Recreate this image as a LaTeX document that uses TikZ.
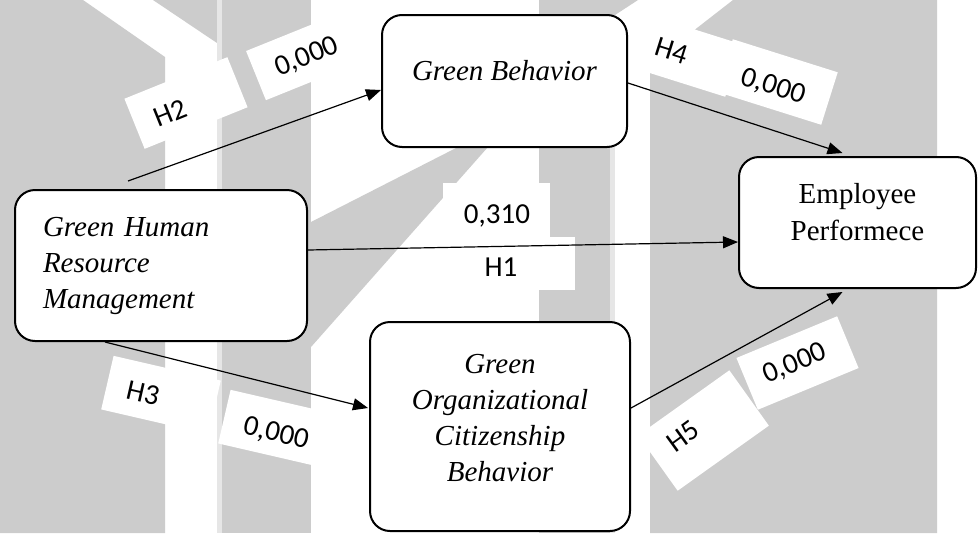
\documentclass[tikz,border=0pt]{standalone}
\usepackage{fontspec}
\setmainfont{Liberation Serif}
\newfontfamily\lblfont{Carlito}
\usetikzlibrary{arrows.meta,calc}
\definecolor{wmgray}{RGB}{204,204,204}
\definecolor{wmlight}{RGB}{230,230,230}

\begin{document}
\begin{tikzpicture}[x=1pt,y=-1pt,
  construct/.style={draw=black, line width=2pt, rounded corners=20pt, fill=white,
    font=\fontsize{29}{36}\selectfont\itshape, inner sep=0pt},
  tag/.style={fill=white, inner sep=0pt},
  tagtext/.style={font=\lblfont\fontsize{29}{31}\selectfont, inner sep=0pt},
  link/.style={line width=1.2pt, -{Triangle[length=15pt,width=12pt]}}]

% canvas
\fill[white] (0,0) rectangle (979,533);
\useasboundingbox (0,0) rectangle (979,533);

% background watermark
\fill[wmgray] (0,0) -- (83,0) -- (165,57) -- (165,533) -- (0,533) -- cycle;
\fill[wmgray] (153,0) -- (217,0) -- (217,43) -- cycle;
\fill[wmlight] (217,0) rectangle (222,533);
\fill[wmgray] (222,0) rectangle (311,533);
\fill[wmgray] (311,222) -- (458,147) -- (488,147) -- (311,347) -- cycle;
\fill[wmgray] (539,0) rectangle (610,533);
\fill[wmgray] (610,0) -- (638,0) -- (615,15) -- (610,15) -- cycle;
\fill[wmlight] (610,15) rectangle (615,533);
\fill[wmgray] (650,70) -- (697,28) -- (733,0) -- (937,0) -- (937,533) -- (650,533) -- cycle;

% label plates
\node[tag, rotate=22, minimum width=111pt, minimum height=54pt] (h2bg) at (186,103) {};
\node[tag, rotate=22, minimum width=110pt, minimum height=53pt] (p2bg) at (307,55) {};
\node[tag, rotate=-17.5, minimum width=110pt, minimum height=55pt] (h4bg) at (681,54) {};
\node[tag, rotate=-17.5, minimum width=110pt, minimum height=55pt] (p4bg) at (777,82) {};
\node[tag, rotate=-13, minimum width=110pt, minimum height=55pt] (h3bg) at (161,395) {};
\node[tag, rotate=-13, minimum width=110pt, minimum height=55pt] (p3bg) at (278,429) {};
\node[tag, rotate=35.5, minimum width=112pt, minimum height=68pt] (h5bg) at (703.5,430.5) {};
\node[tag, rotate=22.5, minimum width=109pt, minimum height=56pt] (p5bg) at (797.5,363) {};
\node[tag, minimum width=107pt, minimum height=54pt] (p1bg) at (496.5,210) {};
\node[tag, minimum width=140pt, minimum height=53pt] (h1bg) at (505,263.5) {};

% constructs
\node[construct, minimum width=292pt, minimum height=151pt, text width=236pt, align=left]
  (ghrm) at (161,265.5) {Green Human\\Resource\\Management};
\node[construct, minimum width=245pt, minimum height=132pt, text depth=22pt]
  (gb) at (504.5,81) {Green Behavior};
\node[construct, minimum width=237pt, minimum height=131pt, align=center, text depth=22pt,
  font=\fontsize{29}{37}\selectfont\upshape]
  (ep) at (857.5,222.5) {Employee\\Performece};
\node[construct, minimum width=260pt, minimum height=209pt, align=center, text depth=18pt]
  (gocb) at (500,426.5) {Green\\Organizational\\Citizenship\\Behavior};

% paths
\coordinate (h2tail) at (128,181);
\draw[link] (h2tail) -- ($(gb.west)+(0,9)$);
\draw[link] ($(ghrm.east)+(0,-15.5)$) -- ($(ep.west)+(0,19.5)$);
\draw[link] ($(gb.east)+(0,2)$) -- ($(ep.north)+(-15,-3)$);
\draw[link] ($(ghrm.south)+(-56,0)$) -- ($(gocb.west)+(-1,-18.5)$);
\draw[link] ($(gocb.east)+(0,-18.5)$) -- ($(ep.south)+(-15,3)$);

% path labels
\node[tagtext, rotate=22] (h2) at (170,113) {H2};
\node[tagtext, rotate=22] (p2) at (307,57) {0,000};
\node[tagtext, rotate=-17.5] (h4) at (672,51) {H4};
\node[tagtext, rotate=-17.5] (p4) at (773,87) {0,000};
\node[tagtext, rotate=-13] (h3) at (143,393) {H3};
\node[tagtext, rotate=-13] (p3) at (276,434) {0,000};
\node[tagtext, rotate=36] (h5) at (683,436) {H5};
\node[tagtext, rotate=22.5] (p5) at (795,364) {0,000};
\node[tagtext] (p1) at (497,216) {0,310};
\node[tagtext] (h1) at (501,267) {H1};
\end{tikzpicture}
\end{document}
